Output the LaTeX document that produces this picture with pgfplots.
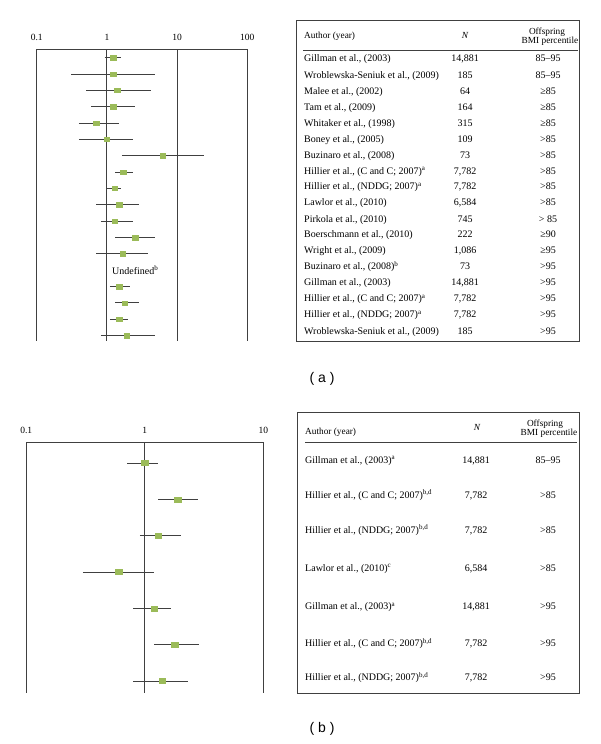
\documentclass[border=0pt]{standalone}
\usepackage{pgfplots}
\pgfplotsset{compat=1.18}
\usepackage{pgfplotstable}
\usepackage{fontspec}
\setmainfont{Liberation Serif}
\newfontfamily\labfont{Liberation Sans}
\definecolor{mk}{HTML}{9BBB59}
\definecolor{ln}{HTML}{404040}

\pgfplotstableread{
row est
1 1.22
2 1.22
3 1.40
4 1.22
5 0.70
6 1.00
7 6.24
8 1.71
9 1.30
10 1.50
11 1.29
12 2.51
13 1.69
15 1.50
16 1.79
17 1.50
18 1.91
}\esta

\pgfplotstableread{
row est
1 1.00
2 1.90
3 1.30
4 0.60
5 1.20
6 1.78
7 1.40
}\estb

\begin{document}
\begin{tikzpicture}
\path (0pt,0pt) rectangle (600pt,-744pt);

% ---------- panel (a) plot ----------
\begin{axis}[xmode=log, scale only axis, anchor=north west,
  y dir=reverse, axis x line=top, axis y line=none,
  axis line style={ln, line width=0.9pt, -},
  major tick length=0pt, minor tick length=0pt, xminorticks=false, ytick=\empty,
  xmajorgrids, grid style={ln, line width=0.9pt},
  xticklabel style={font=\fontsize{9.5}{11}\selectfont, yshift=5pt},
  clip=false,
  at={(36.7pt,-49.3pt)}, width=210.6pt, height=291.4pt,
  xmin=0.1, xmax=100, ymin=0.49, ymax=18.31,
  xtick={0.1,1,10,100}, xticklabels={0.1,1,10,100}]
\addplot[ln, line width=0.9pt, unbounded coords=jump] coordinates {
(0.93,1) (1.58,1) (nan,nan)
(0.31,2) (4.8,2) (nan,nan)
(0.51,3) (4.25,3) (nan,nan)
(0.60,4) (2.48,4) (nan,nan)
(0.40,5) (1.50,5) (nan,nan)
(0.40,6) (2.33,6) (nan,nan)
(1.64,7) (24,7) (nan,nan)
(1.31,8) (2.33,8) (nan,nan)
(1.00,9) (1.60,9) (nan,nan)
(0.71,10) (2.90,10) (nan,nan)
(0.82,11) (2.33,11) (nan,nan)
(1.31,12) (4.8,12) (nan,nan)
(0.71,13) (3.85,13) (nan,nan)
(1.10,15) (2.11,15) (nan,nan)
(1.31,16) (2.90,16) (nan,nan)
(1.10,17) (2.00,17) (nan,nan)
(0.82,18) (4.8,18)
};
\addplot[only marks, mark=square*, mark size=2.2pt,
  mark options={fill=mk, draw=mk, xscale=1.25}] table[x=est, y=row] {\esta};
\node[font=\fontsize{10}{12}\selectfont] at (axis cs:2.54,14) {Undefined\textsuperscript{b}};
\end{axis}

% ---------- panel (b) plot ----------
\begin{axis}[xmode=log, scale only axis, anchor=north west,
  y dir=reverse, axis x line=top, axis y line=none,
  axis line style={ln, line width=0.9pt, -},
  major tick length=0pt, minor tick length=0pt, xminorticks=false, ytick=\empty,
  xmajorgrids, grid style={ln, line width=0.9pt},
  xticklabel style={font=\fontsize{9.5}{11}\selectfont, yshift=5pt},
  clip=false,
  at={(26.3pt,-442pt)}, width=237pt, height=251pt,
  xmin=0.1, xmax=10, ymin=0.42, ymax=7.33,
  xtick={0.1,1,10}, xticklabels={0.1,1,10}]
\addplot[ln, line width=0.9pt, unbounded coords=jump] coordinates {
(0.71,1) (1.28,1) (nan,nan)
(1.30,2) (2.79,2) (nan,nan)
(0.91,3) (2.01,3) (nan,nan)
(0.30,4) (1.20,4) (nan,nan)
(0.80,5) (1.68,5) (nan,nan)
(1.20,6) (2.88,6) (nan,nan)
(0.80,7) (2.30,7)
};
\addplot[only marks, mark=square*, mark size=2.6pt,
  mark options={fill=mk, draw=mk, xscale=1.3}] table[x=est, y=row] {\estb};
\end{axis}

% ---------- tables ----------
\begin{scope}[x=1pt, y=-1pt]
\tikzset{cell/.style={font=\fontsize{10}{12}\selectfont, inner sep=0pt, text height=7pt, text depth=2pt},
         hcell/.style={font=\fontsize{9.3}{11}\selectfont, inner sep=0pt, text height=6.5pt, text depth=2pt}}
% table (a)
\draw[ln, line width=0.9pt] (296,20.7) rectangle (579.3,341);
\draw[ln, line width=0.8pt] (303,50.7) -- (578,50.7);
\node[hcell, anchor=west] at (304,36.7) {Author (year)};
\node[hcell] at (465,36) {\itshape N};
\node[hcell] at (547,32) {Offspring};
\node[hcell] at (550,41) {BMI percentile};
\foreach \y/\a/\n/\p in {
 59.3/{Gillman et al., (2003)}/{14,881}/{85--95},
 76/{Wroblewska-Seniuk et al., (2009)}/{185}/{85--95},
 91.7/{Malee et al., (2002)}/{64}/{≥85},
 108.3/{Tam et al., (2009)}/{164}/{≥85},
 124/{Whitaker et al., (1998)}/{315}/{≥85},
 140/{Boney et al., (2005)}/{109}/{>85},
 155.7/{Buzinaro et al., (2008)}/{73}/{>85},
 171.7/{Hillier et al., (C and C; 2007)\textsuperscript{a}}/{7,782}/{>85},
 187.3/{Hillier et al., (NDDG; 2007)\textsuperscript{a}}/{7,782}/{>85},
 203.3/{Lawlor et al., (2010)}/{6,584}/{>85},
 220/{Pirkola et al., (2010)}/{745}/{> 85},
 235.3/{Boerschmann et al., (2010)}/{222}/{≥90},
 251/{Wright et al., (2009)}/{1,086}/{≥95},
 267.3/{Buzinaro et al., (2008)\textsuperscript{b}}/{73}/{>95},
 283.3/{Gillman et al., (2003)}/{14,881}/{>95},
 299.3/{Hillier et al., (C and C; 2007)\textsuperscript{a}}/{7,782}/{>95},
 315.3/{Hillier et al., (NDDG; 2007)\textsuperscript{a}}/{7,782}/{>95},
 331.7/{Wroblewska-Seniuk et al., (2009)}/{185}/{>95}}{
 \node[cell, anchor=west] at (304,\y) {\a};
 \node[cell] at (465,\y) {\n};
 \node[cell] at (548,\y) {\p};
}
% table (b)
\draw[ln, line width=0.9pt] (297.3,412.7) rectangle (579.3,693.3);
\draw[ln, line width=0.8pt] (305,442.3) -- (577,442.3);
\node[hcell, anchor=west] at (305,432) {Author (year)};
\node[hcell] at (477,428) {\itshape N};
\node[hcell] at (545,424) {Offspring};
\node[hcell] at (549,433) {BMI percentile};
\foreach \y/\a/\n/\p in {
 461/{Gillman et al., (2003)\textsuperscript{a}}/{14,881}/{85--95},
 496/{Hillier et al., (C and C; 2007)\textsuperscript{b,d}}/{7,782}/{>85},
 531/{Hillier et al., (NDDG; 2007)\textsuperscript{b,d}}/{7,782}/{>85},
 568.7/{Lawlor et al., (2010)\textsuperscript{c}}/{6,584}/{>85},
 607.3/{Gillman et al., (2003)\textsuperscript{a}}/{14,881}/{>95},
 644.3/{Hillier et al., (C and C; 2007)\textsuperscript{b,d}}/{7,782}/{>95},
 678.3/{Hillier et al., (NDDG; 2007)\textsuperscript{b,d}}/{7,782}/{>95}}{
 \node[cell, anchor=west] at (305,\y) {\a};
 \node[cell] at (476,\y) {\n};
 \node[cell] at (548,\y) {\p};
}
% panel labels
\node[font=\labfont\fontsize{14}{16}\selectfont] at (322,379) {( a )};
\node[font=\labfont\fontsize{14}{16}\selectfont] at (322,729) {( b )};
\end{scope}
\end{tikzpicture}
\end{document}
